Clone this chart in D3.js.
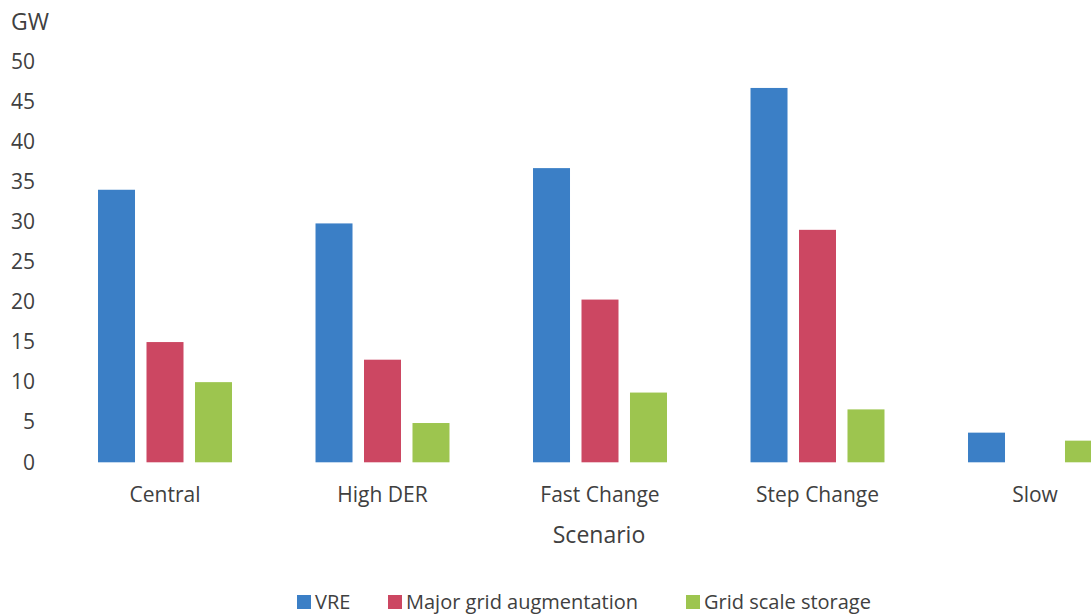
<!DOCTYPE html>
<html>
<head>
<meta charset="utf-8">
<script src="https://cdn.jsdelivr.net/npm/d3@7"></script>
<style>
  body { margin: 0; background: #fff; }
  svg text { font-family: "Open Sans", "Noto Sans", sans-serif; fill: #404040; }
</style>
</head>
<body>
<svg width="1091" height="616"></svg>
<script>
const categories = ['Central', 'High DER', 'Fast Change', 'Step Change', 'Slow'];
const seriesNames = ['VRE', 'Major grid augmentation', 'Grid scale storage'];
const vre = [34, 29.8, 36.7, 46.7, 3.7];
const majorGrid = [15, 12.8, 20.3, 29, 0];
const storage = [10, 4.9, 8.7, 6.6, 2.7];
const yTicks = [0, 5, 10, 15, 20, 25, 30, 35, 40, 45, 50];
const colors = ['#3b7fc6', '#cc4762', '#9dc54f'];

const seriesValues = [vre, majorGrid, storage];
const data = categories.map((c, i) => ({
  category: c,
  values: seriesNames.map((s, j) => ({ key: s, idx: j, value: seriesValues[j][i] }))
}));

const svg = d3.select('svg');
const baseY = 462.3;
const topY = 61.5;

const x = d3.scaleBand()
  .domain(categories)
  .range([56.25, 56.25 + 1087.5])
  .paddingInner(0.384)
  .paddingOuter(0.192);

const xs = d3.scaleBand()
  .domain(seriesNames)
  .range([0, x.bandwidth()])
  .paddingInner(0.237);

const y = d3.scaleLinear()
  .domain([0, 50])
  .range([baseY, topY]);

// y axis labels only
const yAxis = svg.append('g')
  .attr('transform', 'translate(35,0)')
  .call(d3.axisLeft(y).tickValues(yTicks).tickSize(0).tickPadding(0));
yAxis.select('.domain').remove();
yAxis.selectAll('text')
  .style('font-size', '21px')
  .style('font-family', '"Open Sans", "Noto Sans", sans-serif')
  .attr('fill', '#404040');

svg.append('text')
  .attr('x', 11)
  .attr('y', 30)
  .style('font-size', '23px')
  .text('GW');

// bars
const groups = svg.selectAll('.grp')
  .data(data)
  .enter().append('g')
  .attr('class', 'grp')
  .attr('transform', d => `translate(${x(d.category)},0)`);

groups.selectAll('rect')
  .data(d => d.values.filter(v => v.value > 0))
  .enter().append('rect')
  .attr('x', d => xs(d.key))
  .attr('y', d => y(d.value))
  .attr('width', xs.bandwidth())
  .attr('height', d => baseY - y(d.value))
  .attr('fill', d => colors[d.idx]);

// category labels
const xAxis = svg.append('g')
  .attr('transform', `translate(0,${baseY})`)
  .call(d3.axisBottom(x).tickSize(0).tickPadding(25));
xAxis.select('.domain').remove();
xAxis.selectAll('text')
  .style('font-size', '21px')
  .style('font-family', '"Open Sans", "Noto Sans", sans-serif')
  .attr('fill', '#404040');

svg.append('text')
  .attr('x', 599)
  .attr('y', 543)
  .attr('text-anchor', 'middle')
  .style('font-size', '23px')
  .text('Scenario');

// legend
const legendPos = [297, 388, 686];
const legend = svg.selectAll('.leg')
  .data(seriesNames)
  .enter().append('g')
  .attr('class', 'leg')
  .attr('transform', (d, i) => `translate(${legendPos[i]},595)`);
legend.append('rect')
  .attr('width', 14)
  .attr('height', 14)
  .attr('fill', (d, i) => colors[i]);
legend.append('text')
  .attr('x', 18)
  .attr('y', 14)
  .style('font-size', '20px')
  .text(d => d);
</script>
</body>
</html>
